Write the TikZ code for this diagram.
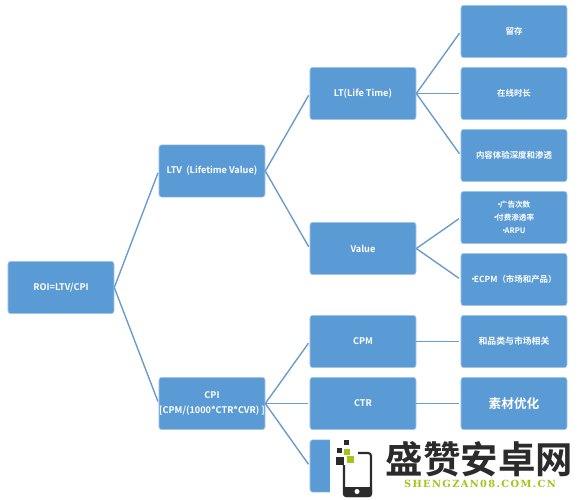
\documentclass[tikz,border=0pt]{standalone}
\usepackage{fontspec}
\usepackage{xcolor}
\setmainfont{Noto Sans CJK SC}[BoldFont={* Bold}]
\newfontfamily\logoserif[LetterSpace=14]{DejaVu Serif}
\usetikzlibrary{positioning}
\definecolor{boxblue}{HTML}{5B9BD5}
\definecolor{linkblue}{HTML}{6A9DCB}
\definecolor{logogreen}{HTML}{A4C41C}
\definecolor{logodark}{HTML}{2B2B2B}
\newcommand{\dotmark}{\kern-.3em·\kern-.4em}
\begin{document}
\begin{tikzpicture}[x=.025cm,y=-.025cm,every node/.style={font=\fontsize{6.5}{11.3}\selectfont\bfseries},
 card/.style={draw=boxblue!55!white,fill=boxblue,text=white,rounded corners=2pt,line width=.4pt,
  minimum width=2.65cm,minimum height=1.31cm,inner sep=0pt,align=center},
 cjkcard/.style={card,font=\fontsize{6}{9.4}\selectfont\bfseries},
 link/.style={draw=linkblue,line width=1pt,shorten >=1.5pt}]
\useasboundingbox (0,0) rectangle (580,500);
\node[card] (roi) at (61,287.5) {ROI=LTV/CPI};
\node[card] (ltv) at (212,171) {LTV\ \ (Lifetime Value)};
\node[card] (cpi) at (212,403.5) {CPI\\{[}CPM/(1000*CTR*CVR)\ {]}};
\node[card] (lt) at (363,93.5) {LT(Life Time)};
\node[card] (value) at (363,248.5) {Value};
\node[card] (cpm) at (363,341.5) {CPM};
\node[card] (ctr) at (363,403.5) {CTR};
\node[card] (cvr) at (363,466) {};
\node[cjkcard] (keep) at (514,31.5) {留存};
\node[cjkcard] (online) at (514,93.5) {在线时长};
\node[cjkcard] (depth) at (514,155.5) {内容体验深度和渗透};
\node[cjkcard,font=\fontsize{5.4}{9.4}\selectfont\bfseries] (ads) at (514,217.5) {\dotmark 广告次数\\\dotmark 付费渗透率\\\dotmark ARPU};
\node[cjkcard] (ecpm) at (514,279.5) {\dotmark ECPM（市场和产品）};
\node[cjkcard,font=\fontsize{6.3}{8}\selectfont\bfseries] (category) at (514,341.5) {和品类与市场相关};
\node[cjkcard,font=\fontsize{9}{11}\selectfont\bfseries] (creative) at (514,403.5) {素材优化};
\foreach \from/\to in {roi/ltv,roi/cpi,ltv/lt,ltv/value,cpi/cpm,cpi/ctr,cpi/cvr,
 lt/keep,lt/online,lt/depth,value/ads,value/ecpm,cpm/category,ctr/creative}
 {\draw[link] (\from.east)--(\to.west);}
% watermark
\fill[white] (330,437) rectangle (580,500);
\foreach \x/\y/\s/\c in {344/440/5/logodark,337/448/5/logodark,344/449/6/logogreen,
 336/457/8/logodark,347/456/7/logogreen}
 {\fill[\c] (\x,\y) rectangle ++(\s,\s);}
\draw[logodark,line width=1.5pt,rounded corners=2pt] (358,453)--(371,453)--(371,496)--(344,496)--(344,465);
\fill[logodark,rounded corners=2pt] (343,487) rectangle (372,497);
\fill[white] (357,491.5) circle (2.5);
\node[inner sep=0pt,text=logodark,font=\fontsize{26.6}{28}\selectfont\bfseries] (logotext) at (479.5,459) {盛赞安卓网};
\node[inner sep=0pt,text=logogreen,font=\fontsize{7}{9}\logoserif\bfseries] (logourl) at (480,484) {SHENGZAN08.COM.CN};
\end{tikzpicture}
\end{document}
